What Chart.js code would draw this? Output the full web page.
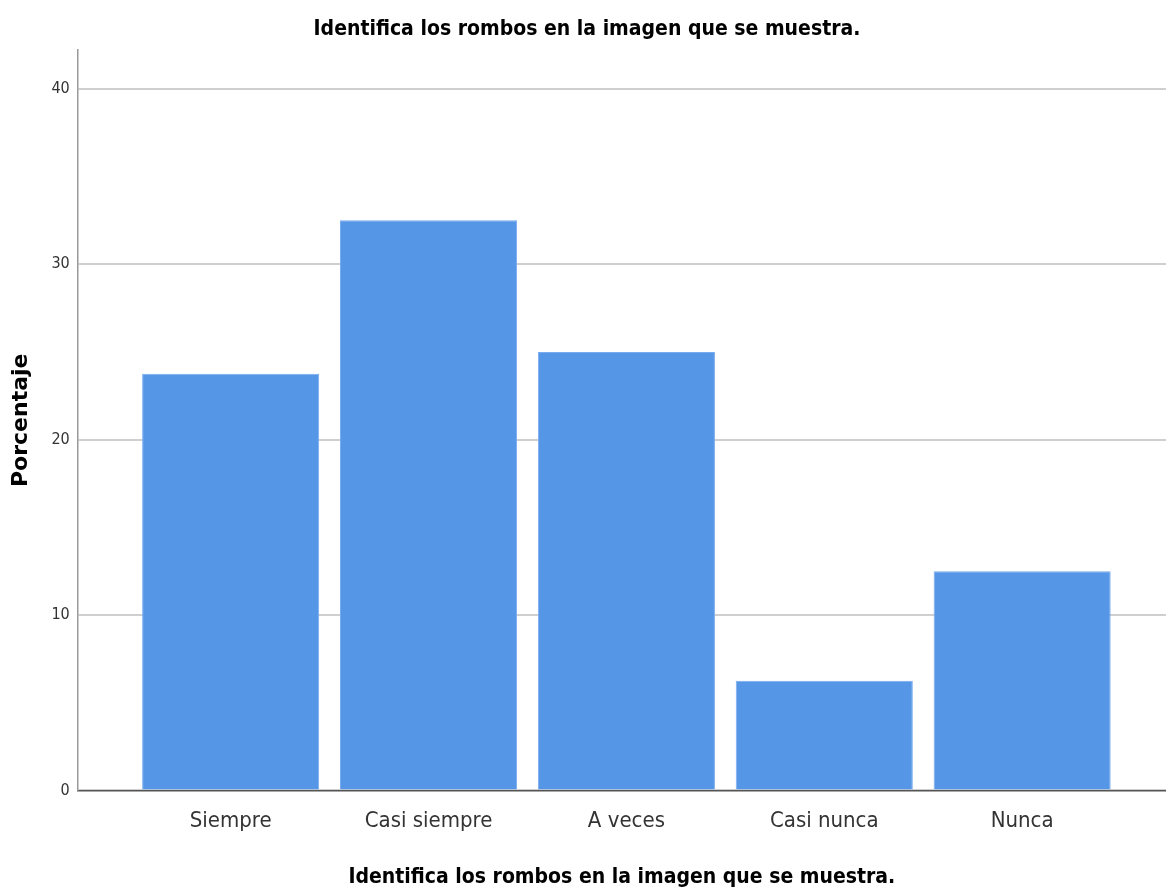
<!DOCTYPE html>
<html>
<head>
<meta charset="utf-8">
<script src="https://cdn.jsdelivr.net/npm/chart.js@4/dist/chart.umd.min.js"></script>
<style>
    body { margin: 0; background: #fff; }
</style>
</head>
<body>
<canvas id="barChart" width="1166" height="894"></canvas>
<script>
const categories = ['Siempre', 'Casi siempre', 'A veces', 'Casi nunca', 'Nunca'];
const percentages = [23.75, 32.5, 25, 6.25, 12.5];
const yTicks = [0, 10, 20, 30, 40];
const chartTitle = 'Identifica los rombos en la imagen que se muestra.';

const narrow = "'Liberation Sans Narrow', 'DejaVu Sans Condensed', Arial, sans-serif";

document.addEventListener('DOMContentLoaded', function () {
    const ctx = document.getElementById('barChart').getContext('2d');

    // bars sit on a linear x axis so the outer margins can be uneven like the original
    const points = percentages.map((v, i) => ({ x: i + 1, y: v }));

    new Chart(ctx, {
        type: 'bar',
        data: {
            datasets: [{
                label: 'Porcentaje',
                data: points,
                backgroundColor: 'rgb(85, 150, 230)',
                borderColor: 'rgb(120, 172, 238)',
                borderWidth: 1,
                barPercentage: 0.895,
                categoryPercentage: 1.0
            }]
        },
        options: {
            responsive: false,
            animation: false,
            layout: { padding: { left: 8, right: 0, top: 0, bottom: 4 } },
            plugins: {
                legend: { display: false },
                tooltip: { enabled: false },
                title: {
                    display: true,
                    text: chartTitle,
                    color: '#000',
                    font: { family: narrow, size: 21, weight: 'bold' },
                    padding: { top: 17, bottom: 8 }
                }
            },
            scales: {
                x: {
                    type: 'linear',
                    offset: false,
                    min: 0.227,
                    max: 5.727,
                    grid: { display: false, drawTicks: false },
                    border: { display: true, color: '#555', width: 1.5 },
                    ticks: {
                        stepSize: 1,
                        includeBounds: false,
                        padding: 18,
                        color: '#333',
                        font: { family: narrow, size: 22 },
                        callback: function (value) {
                            return Number.isInteger(value) && categories[value - 1] ? categories[value - 1] : '';
                        }
                    },
                    title: {
                        display: true,
                        text: chartTitle,
                        color: '#000',
                        font: { family: narrow, size: 21, weight: 'bold' },
                        padding: { top: 12, bottom: 0 }
                    }
                },
                y: {
                    min: 0,
                    max: 42.2,
                    afterBuildTicks: function (scale) {
                        scale.ticks = yTicks.map(v => ({ value: v }));
                    },
                    grid: { color: '#cfcfcf', lineWidth: 2, drawTicks: false },
                    border: { display: true, color: '#999', width: 1.5 },
                    ticks: {
                        padding: 8,
                        color: '#333',
                        font: { family: narrow, size: 16 }
                    },
                    title: {
                        display: true,
                        text: 'Porcentaje',
                        color: '#000',
                        font: { family: "'DejaVu Sans', sans-serif", size: 22, weight: 'bold' },
                        padding: { top: 0, bottom: 9 }
                    }
                }
            }
        }
    });
});
</script>
</body>
</html>
